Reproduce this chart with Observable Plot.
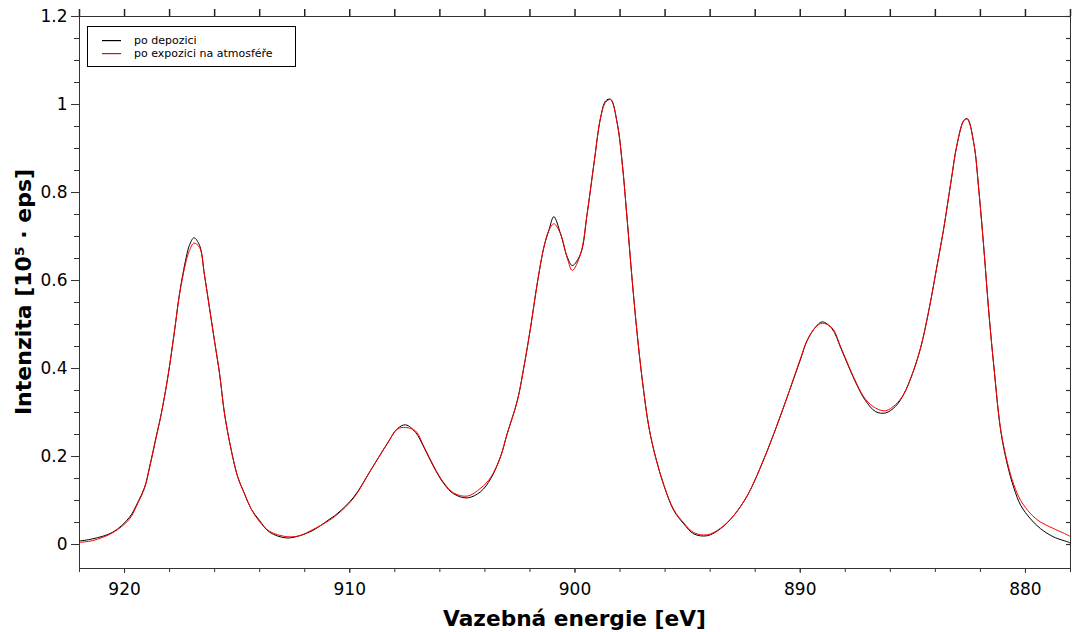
<!DOCTYPE html>
<html><head><meta charset="utf-8">
<script src="https://cdn.jsdelivr.net/npm/d3@7"></script>
<script src="https://cdn.jsdelivr.net/npm/@observablehq/plot@0.6"></script>
<style>
body{margin:0;background:#fff}
svg{font-family:"DejaVu Sans",sans-serif}
</style>
</head><body><div id="chart"></div>
<script>
const energy = [922.00,921.41,920.52,919.78,919.41,919.11,918.89,918.60,918.37,918.08,917.78,917.56,917.26,917.12,916.92,916.67,916.45,916.23,916.01,915.78,915.56,915.26,914.97,914.67,914.38,914.01,913.56,912.82,912.23,911.64,911.30,910.97,910.56,909.82,909.08,908.34,907.89,907.52,907.08,906.71,906.27,905.82,905.38,904.78,904.19,903.75,903.31,903.01,902.56,902.27,901.97,901.68,901.38,901.16,900.94,900.64,900.34,900.12,899.75,899.46,899.16,898.86,898.64,898.42,898.12,897.90,897.68,897.46,897.24,897.01,896.72,896.42,896.05,895.61,895.17,894.72,894.13,893.54,892.95,892.35,891.76,891.17,890.58,889.98,889.69,889.32,889.02,888.58,888.21,887.84,887.47,887.10,886.65,886.21,885.77,885.40,885.02,884.65,884.29,883.91,883.62,883.32,883.03,882.73,882.58,882.29,882.07,881.84,881.62,881.40,881.10,880.81,880.51,880.21,879.77,879.33,878.74,878.07,878.00];
const poDepozici = [0.008,0.013,0.028,0.062,0.096,0.130,0.176,0.244,0.297,0.380,0.486,0.570,0.653,0.680,0.697,0.680,0.612,0.538,0.464,0.388,0.297,0.214,0.153,0.115,0.081,0.055,0.028,0.015,0.020,0.032,0.043,0.055,0.070,0.108,0.168,0.229,0.263,0.272,0.255,0.221,0.176,0.138,0.115,0.106,0.120,0.149,0.199,0.252,0.327,0.403,0.494,0.592,0.676,0.714,0.745,0.706,0.653,0.634,0.661,0.752,0.865,0.971,1.008,1.012,0.956,0.865,0.736,0.600,0.479,0.373,0.267,0.198,0.134,0.077,0.047,0.024,0.020,0.036,0.066,0.111,0.176,0.252,0.335,0.422,0.464,0.494,0.506,0.490,0.448,0.403,0.361,0.327,0.302,0.299,0.314,0.342,0.388,0.448,0.532,0.638,0.721,0.820,0.911,0.964,0.968,0.911,0.805,0.668,0.524,0.403,0.259,0.183,0.128,0.089,0.058,0.036,0.017,0.005,0.003];
const poExpozici = [0.005,0.009,0.027,0.058,0.094,0.128,0.174,0.242,0.297,0.380,0.486,0.568,0.645,0.668,0.685,0.675,0.612,0.538,0.464,0.388,0.297,0.214,0.153,0.115,0.081,0.052,0.030,0.018,0.020,0.034,0.043,0.053,0.068,0.106,0.168,0.229,0.262,0.266,0.258,0.223,0.178,0.140,0.117,0.110,0.128,0.152,0.199,0.252,0.327,0.403,0.494,0.592,0.676,0.714,0.729,0.706,0.650,0.623,0.661,0.752,0.865,0.971,1.005,1.011,0.956,0.865,0.736,0.600,0.479,0.373,0.267,0.198,0.134,0.079,0.049,0.027,0.022,0.037,0.066,0.111,0.176,0.252,0.335,0.424,0.464,0.494,0.503,0.492,0.450,0.405,0.363,0.330,0.310,0.304,0.318,0.342,0.388,0.448,0.532,0.638,0.721,0.820,0.911,0.964,0.966,0.911,0.805,0.668,0.524,0.403,0.262,0.188,0.135,0.100,0.070,0.051,0.036,0.020,0.017];
const seriesNames = ["po depozici", "po expozici na atmosféře"];
const seriesColors = ["#000000", "#ff0000"];
const xTicks = [920, 910, 900, 890, 880];
const xTickLabels = ["920", "910", "900", "890", "880"];
const yTicks = [0, 0.2, 0.4, 0.6, 0.8, 1, 1.2];
const yTickLabels = ["0", "0.2", "0.4", "0.6", "0.8", "1", "1.2"];
const xTitle = "Vazebná energie [eV]";
const yTitle = "Intenzita [10⁵ · eps]";
const xDomain = [922, 878];
const yDomain = [-0.0545, 1.2];

const xMinor = d3.range(878, 923, 2);
const yMinor = d3.range(0, 1.2001, 0.05);

const rows = [];
energy.forEach((e, i) => rows.push({e, v: poDepozici[i], s: seriesNames[0]}));
energy.forEach((e, i) => rows.push({e, v: poExpozici[i], s: seriesNames[1]}));

const W = 1072, H = 632, mL = 79, mR = 2, mT = 16, mB = 64;
const plotW = W - mL - mR, plotH = H - mT - mB;

const blank = () => "";
const chart = Plot.plot({
  width: W, height: H,
  marginLeft: mL, marginRight: mR, marginTop: mT, marginBottom: mB,
  style: {fontFamily: "DejaVu Sans, sans-serif", fontSize: "17px", color: "#000", background: "#fff", overflow: "visible"},
  x: {domain: xDomain, label: null},
  y: {domain: yDomain, label: null},
  color: {domain: seriesNames, range: seriesColors},
  marks: [
    Plot.axisX(xMinor, {anchor: "bottom", tickSize: 4, tickFormat: blank, label: null, stroke: "#333"}),
    Plot.axisX(xTicks, {anchor: "bottom", tickSize: 5, tickPadding: 9, label: null, stroke: "#333",
      tickFormat: d => xTickLabels[xTicks.indexOf(d)]}),
    Plot.axisY(yMinor, {anchor: "left", tickSize: 5, tickFormat: blank, label: null, stroke: "#333"}),
    Plot.axisY(yTicks, {anchor: "left", tickSize: 8, tickPadding: 4, label: null, stroke: "#333",
      tickFormat: d => yTickLabels[yTicks.indexOf(d)]}),
    Plot.tickY(yMinor, {y: d => d, insetLeft: plotW - 4, stroke: "#333", strokeWidth: 1.2}),
    Plot.frame({stroke: "#333"}),
    Plot.line(rows, {x: "e", y: "v", stroke: "s", z: "s", curve: "catmull-rom", strokeWidth: 1}),
    // top ticks, pointing outward above the frame
    Plot.tickX(xMinor, {x: d => d, insetBottom: plotH, insetTop: -7, stroke: "#222", strokeWidth: 1.5})
  ]
});
document.getElementById("chart").appendChild(chart);

const svg = d3.select(chart);
svg.append("text").attr("x", 574.5).attr("y", 626).attr("text-anchor", "middle")
  .attr("font-family", "DejaVu Sans, sans-serif").attr("font-weight", "bold").attr("font-size", 21.7)
  .attr("fill", "#000").text(xTitle);
svg.append("text").attr("transform", "translate(31,292) rotate(-90)").attr("text-anchor", "middle")
  .attr("font-family", "DejaVu Sans, sans-serif").attr("font-weight", "bold").attr("font-size", 22)
  .attr("fill", "#000").text(yTitle);

const lg = svg.append("g").attr("font-family", "DejaVu Sans, sans-serif").attr("font-size", 11).attr("text-anchor", "start");
lg.append("rect").attr("x", 87.5).attr("y", 26.5).attr("width", 208).attr("height", 40)
  .attr("fill", "#fff").attr("stroke", "#000").attr("stroke-width", 1);
seriesNames.forEach((name, i) => {
  const y = 40 + i * 13;
  lg.append("rect").attr("x", 102).attr("y", y).attr("width", 19).attr("height", 1.2)
    .attr("fill", seriesColors[i]);
  lg.append("text").attr("x", 134).attr("y", y).attr("dy", "0.35em").attr("fill", "#000").text(name);
});
</script>
</body></html>
